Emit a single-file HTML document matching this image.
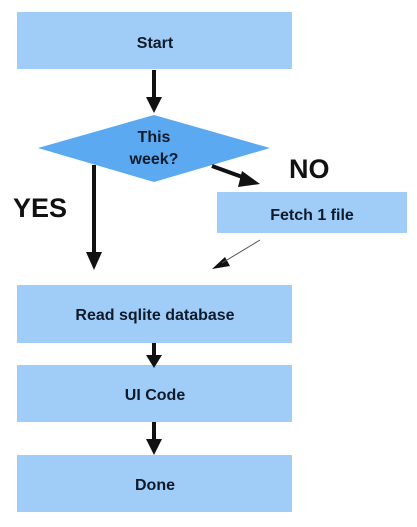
<!DOCTYPE html>
<html><head><style>body{margin:0;background:#fff}</style></head><body>
<svg width="417" height="522" xmlns="http://www.w3.org/2000/svg" font-family="Liberation Sans, sans-serif" font-weight="bold">
<rect width="417" height="522" fill="#fff"/>
<g fill="#9fcdf8">
<rect x="17" y="12" width="275" height="57"/>
<rect x="217" y="192" width="190" height="41"/>
<rect x="17" y="285" width="275" height="58"/>
<rect x="17" y="365" width="275" height="57"/>
<rect x="17" y="455" width="275" height="57"/>
</g>
<polygon points="154,115 270,148 154,182 38,148" fill="#5aa9f1"/>
<g fill="#0f1a2a" font-size="16" text-anchor="middle">
<text x="155" y="48">Start</text>
<text x="154" y="142">This</text>
<text x="154" y="164">week?</text>
<text x="312" y="220">Fetch 1 file</text>
<text x="155" y="320">Read sqlite database</text>
<text x="155" y="400">UI Code</text>
<text x="155" y="490">Done</text>
</g>
<g fill="#111" font-size="27">
<text x="289" y="178">NO</text>
<text x="13" y="217">YES</text>
</g>
<g stroke="#111" stroke-width="4">
<line x1="154" y1="70" x2="154" y2="98"/>
<line x1="94" y1="165" x2="94" y2="252"/>
<line x1="212" y1="166" x2="245" y2="178"/>
<line x1="154" y1="343" x2="154" y2="356"/>
<line x1="154" y1="422" x2="154" y2="440"/>
</g>
<g fill="#111">
<polygon points="146,97 162,97 154,113"/>
<polygon points="86,252 102,252 94,270"/>
<polygon points="242,171 260,184 238,187"/>
<polygon points="146,355 162,355 154,368"/>
<polygon points="146,439 162,439 154,455"/>
<polygon points="212,269 225,257 230,266"/>
</g>
<line x1="260" y1="240" x2="222" y2="263" stroke="#555" stroke-width="1"/>
</svg>
</body></html>
